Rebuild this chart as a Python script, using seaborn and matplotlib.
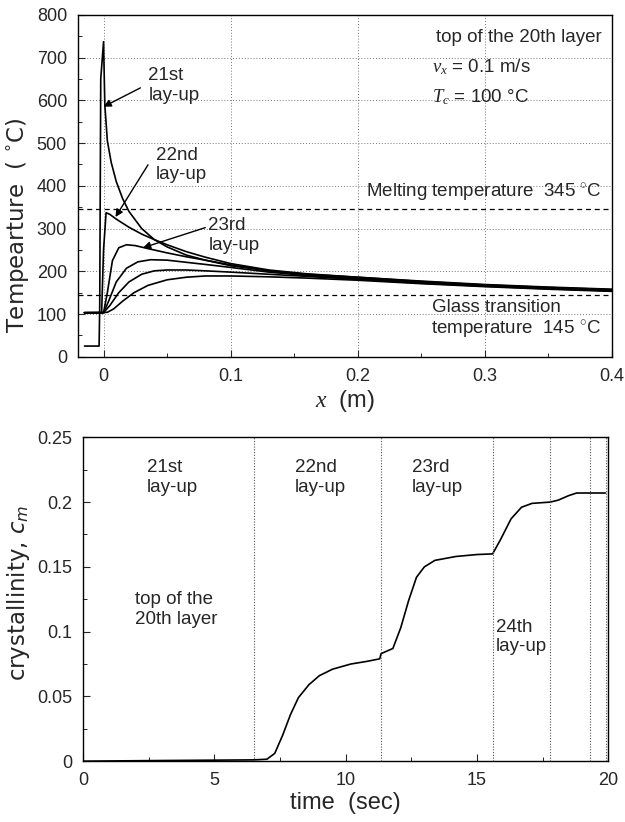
import numpy as np
import pandas as pd
import matplotlib
matplotlib.use("Agg")
import matplotlib.pyplot as plt
import seaborn as sns

# ---------------- data: top panel (temperature vs x) ----------------
x_21st = [-0.015, -0.0035, -0.0030, -0.0022, 0.0, 0.001, 0.003, 0.006, 0.010, 0.015, 0.020,
          0.030, 0.040, 0.050, 0.065, 0.080, 0.100, 0.130, 0.160, 0.200, 0.250, 0.300, 0.350, 0.400]
T_21st = [25, 25, 120, 650, 737, 590, 505, 455, 410, 370, 340,
          300, 274, 257, 238, 226, 213, 201, 193, 186, 177, 169, 163, 158]

x_22nd = [-0.015, -0.0015, 0.0, 0.002, 0.005, 0.010, 0.020, 0.030, 0.040, 0.050, 0.065,
          0.080, 0.100, 0.130, 0.160, 0.200, 0.250, 0.300, 0.350, 0.400]
T_22nd = [103, 103, 250, 337, 333, 322, 303, 287, 274, 262, 246,
          233, 218, 203, 194, 186, 176, 168, 162, 157]

x_23rd = [-0.015, 0.0, 0.003, 0.007, 0.012, 0.018, 0.025, 0.035, 0.050, 0.065, 0.080,
          0.100, 0.130, 0.160, 0.200, 0.250, 0.300, 0.350, 0.400]
T_23rd = [103, 103, 150, 225, 255, 262, 260, 253, 243, 234, 226,
          215, 201, 192, 184, 175, 167, 161, 156]

x_24th = [-0.015, 0.0, 0.004, 0.010, 0.018, 0.027, 0.037, 0.050, 0.065, 0.080, 0.100,
          0.130, 0.160, 0.200, 0.250, 0.300, 0.350, 0.400]
T_24th = [103, 103, 130, 175, 207, 222, 227, 226, 221, 216, 209,
          198, 190, 182, 173, 166, 160, 155]

x_25th = [-0.015, 0.0, 0.005, 0.012, 0.020, 0.030, 0.040, 0.050, 0.065, 0.080, 0.100,
          0.130, 0.160, 0.200, 0.250, 0.300, 0.350, 0.400]
T_25th = [103, 103, 120, 150, 175, 193, 201, 203, 203, 201, 198,
          193, 188, 181, 172, 165, 159, 154]

x_26th = [-0.015, 0.003, 0.008, 0.015, 0.024, 0.035, 0.050, 0.065, 0.080, 0.100,
          0.130, 0.160, 0.200, 0.250, 0.300, 0.350, 0.400]
T_26th = [103, 104, 112, 130, 150, 167, 180, 186, 189, 189,
          187, 184, 179, 171, 164, 158, 153]

T_melt = 345
T_glass = 145

# ---------------- data: bottom panel (crystallinity vs time) ----------------
t_sec = [0, 3, 6.5, 7.0, 7.3, 7.6, 7.9, 8.2, 8.6, 9.0, 9.5, 10.2, 10.8, 11.3, 11.35,
         11.8, 12.1, 12.4, 12.7, 13.0, 13.4, 14.2, 15.0, 15.6, 15.9, 16.3, 16.7, 17.1,
         17.8, 18.1, 18.5, 18.8, 19.9]
c_m = [0, 0.0005, 0.001, 0.0015, 0.006, 0.020, 0.036, 0.049, 0.059, 0.066, 0.071, 0.075,
       0.077, 0.079, 0.083, 0.087, 0.103, 0.124, 0.142, 0.150, 0.155, 0.158, 0.1595, 0.160,
       0.171, 0.187, 0.196, 0.199, 0.200, 0.2015, 0.205, 0.207, 0.207]
layup_times = [6.5, 11.35, 15.6, 17.8, 19.3, 19.9]

top_xticks = [0, 0.1, 0.2, 0.3, 0.4]
top_xticklabels = ["0", "0.1", "0.2", "0.3", "0.4"]
top_yticks = [0, 100, 200, 300, 400, 500, 600, 700, 800]
bot_xticks = [0, 5, 10, 15, 20]
bot_yticks = [0, 0.05, 0.1, 0.15, 0.2, 0.25]
bot_yticklabels = ["0", "0.05", "0.1", "0.15", "0.2", "0.25"]

# ---------------- style ----------------
sns.set_theme(style="ticks")
plt.rcParams['font.family'] = ['Liberation Sans', 'DejaVu Sans']
plt.rcParams['mathtext.fontset'] = 'custom'
plt.rcParams['mathtext.it'] = 'Liberation Serif:italic'
plt.rcParams['mathtext.rm'] = 'Liberation Sans'
plt.rcParams['xtick.direction'] = 'in'
plt.rcParams['ytick.direction'] = 'in'

fig = plt.figure(figsize=(6.25, 8.22), dpi=100)
ax1 = fig.add_axes([0.125, 0.566, 0.854, 0.416])
ax2 = fig.add_axes([0.133, 0.074, 0.840, 0.394])

TICK_FS = 13
LABEL_FS = 17
YLABEL_FS = 16.5
fs = 13.5

# top panel
frames = []
for name, xs, ts in [("21", x_21st, T_21st), ("22", x_22nd, T_22nd), ("23", x_23rd, T_23rd),
                     ("24", x_24th, T_24th), ("25", x_25th, T_25th), ("26", x_26th, T_26th)]:
    frames.append(pd.DataFrame({"x": xs, "T": ts, "curve": name}))
df_top = pd.concat(frames, ignore_index=True)
sns.lineplot(data=df_top, x="x", y="T", units="curve", estimator=None, sort=False,
             color="black", lw=1.2, ax=ax1)

ax1.axhline(T_melt, color="black", ls=(0, (4, 3)), lw=0.9)
ax1.axhline(T_glass, color="black", ls=(0, (4, 3)), lw=0.9)
ax1.set_xlim(-0.02, 0.4)
ax1.set_ylim(0, 800)
ax1.set_xticks(top_xticks)
ax1.set_xticklabels(top_xticklabels)
ax1.set_yticks(top_yticks)
ax1.set_xticks([0.05, 0.15, 0.25, 0.35], minor=True)
ax1.set_yticks([50, 150, 250, 350, 450, 550, 650, 750], minor=True)
ax1.grid(True, which="major", color="#777777", ls=(0, (1, 2)), lw=0.7)
ax1.tick_params(labelsize=TICK_FS, length=5, width=0.8, pad=8)
ax1.tick_params(which="minor", length=3, width=0.7)
ax1.set_xlabel("$x$  (m)", fontsize=LABEL_FS, labelpad=2)
ax1.set_ylabel("Tempearture  ( $^{\\circ}$C)", fontsize=YLABEL_FS, family="DejaVu Sans",
               math_fontfamily="dejavusans")
ax1.yaxis.set_label_coords(-0.088, 0.386)
for s in ax1.spines.values():
    s.set_linewidth(1.0)
    s.set_color("black")

ax1.text(0.981, 0.933, "top of the 20th layer", transform=ax1.transAxes, ha="right", va="center", fontsize=fs)
ax1.text(0.663, 0.848, "$v_x$ = 0.1 m/s", transform=ax1.transAxes, ha="left", va="center", fontsize=fs)
ax1.text(0.663, 0.760, "$T_c$ = 100 °C", transform=ax1.transAxes, ha="left", va="center", fontsize=fs)
ax1.text(0.981, 0.480, "Melting temperature  345 $^{\\circ}$C", transform=ax1.transAxes, ha="right", va="center", fontsize=fs)
ax1.text(0.663, 0.143, "Glass transition", transform=ax1.transAxes, ha="left", va="center", fontsize=fs)
ax1.text(0.661, 0.079, "temperature  145 $^{\\circ}$C", transform=ax1.transAxes, ha="left", va="center", fontsize=fs)

arrow = dict(arrowstyle="-|>", color="black", lw=1.0, mutation_scale=11, shrinkA=0, shrinkB=0)
ax1.annotate("", xy=(0.0, 585), xytext=(0.029, 629), arrowprops=arrow)
ax1.annotate("", xy=(0.0094, 327), xytext=(0.035, 449), arrowprops=arrow)
ax1.annotate("", xy=(0.031, 255), xytext=(0.080, 302), arrowprops=arrow)
ax1.text(0.0353, 634, "21st\nlay-up", ha="left", va="center", fontsize=fs, linespacing=1.2)
ax1.text(0.041, 449, "22nd\nlay-up", ha="left", va="center", fontsize=fs, linespacing=1.2)
ax1.text(0.0824, 283, "23rd\nlay-up", ha="left", va="center", fontsize=fs, linespacing=1.2)

# bottom panel
df_bot = pd.DataFrame({"t": t_sec, "c": c_m})
sns.lineplot(data=df_bot, x="t", y="c", color="black", lw=1.2, ax=ax2)
for tl in layup_times:
    ax2.axvline(tl, color="#555555", ls=(0, (1, 1.5)), lw=0.8)
ax2.set_xlim(0, 20)
ax2.set_ylim(0, 0.25)
ax2.set_xticks(bot_xticks)
ax2.set_yticks(bot_yticks)
ax2.set_yticklabels(bot_yticklabels)
ax2.set_xticks([2.5, 7.5, 12.5, 17.5], minor=True)
ax2.set_yticks([0.025, 0.075, 0.125, 0.175, 0.225], minor=True)
ax2.tick_params(labelsize=TICK_FS, length=5, width=0.8, pad=8)
ax2.tick_params(which="minor", length=3, width=0.7)
ax2.set_xlabel("time  (sec)", fontsize=LABEL_FS, labelpad=2)
ax2.set_ylabel("crystallinity, $c_m$", fontsize=YLABEL_FS, family="DejaVu Sans",
               math_fontfamily="dejavusans")
ax2.yaxis.set_label_coords(-0.098, 0.52)
for s in ax2.spines.values():
    s.set_linewidth(1.0)
    s.set_color("black")

ax2.text(2.44, 0.219, "21st\nlay-up", ha="left", va="center", fontsize=fs, linespacing=1.2)
ax2.text(8.08, 0.219, "22nd\nlay-up", ha="left", va="center", fontsize=fs, linespacing=1.2)
ax2.text(12.53, 0.219, "23rd\nlay-up", ha="left", va="center", fontsize=fs, linespacing=1.2)
ax2.text(1.98, 0.117, "top of the\n20th layer", ha="left", va="center", fontsize=fs, linespacing=1.2)
ax2.text(15.73, 0.096, "24th\nlay-up", ha="left", va="center", fontsize=fs, linespacing=1.2)

fig.savefig("out.png", dpi=100)
